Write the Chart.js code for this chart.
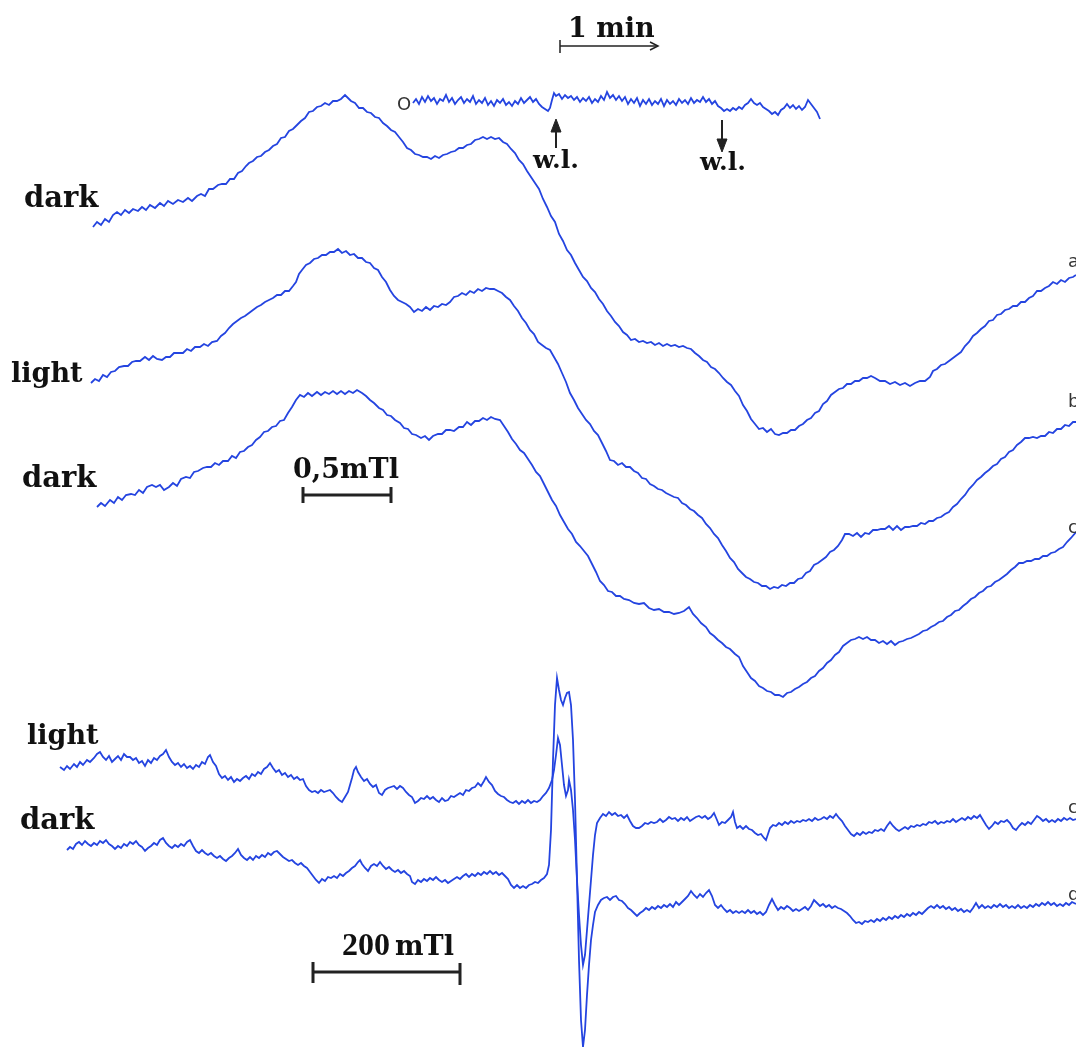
<!DOCTYPE html>
<html lang="en">
<head>
    <meta charset="UTF-8">
    <title>EPR spectra, dark / light</title>
    <script src="https://cdn.jsdelivr.net/npm/chart.js"></script>
    <style>
        html, body { margin: 0; padding: 0; background: #fff; }
        #wrap { position: relative; width: 1076px; height: 1051px; overflow: hidden; }
        #wrap canvas { position: absolute; left: 0; top: 0; }
        .lbl { position: absolute; font-family: 'DejaVu Serif', serif; font-weight: bold; line-height: 1; color: #111; white-space: nowrap; }
        .side { position: absolute; font-family: 'DejaVu Sans', sans-serif; font-size: 18px; line-height: 1; color: #333; }
    </style>
</head>
<body>

<div id="wrap">
    <canvas id="spectra" width="1076" height="1051"></canvas>

    <div class="lbl" style="left:24px; top:183px; font-size:29px;">dark</div>
    <div class="lbl" style="left:11px; top:359px; font-size:27px;">light</div>
    <div class="lbl" style="left:22px; top:463px; font-size:29px;">dark</div>
    <div class="lbl" style="left:27px; top:721px; font-size:27px;">light</div>
    <div class="lbl" style="left:20px; top:805px; font-size:29px;">dark</div>

    <div class="lbl" style="left:568px; top:14px; font-size:27px;">1 min</div>
    <div class="lbl" style="left:533px; top:147px; font-size:25px;">w.l.</div>
    <div class="lbl" style="left:700px; top:149px; font-size:25px;">w.l.</div>
    <div class="lbl" style="left:293px; top:455px; font-size:27px;">0,5mTl</div>
    <div class="lbl" style="left:342px; top:928px; font-size:32px; font-family:'Liberation Serif', serif;">200</div>
    <div class="lbl" style="left:395px; top:932px; font-size:27px;">mTl</div>

    <div class="side" style="left:397px; top:95px;">O</div>
    <div class="side" style="left:1068px; top:252px;">a</div>
    <div class="side" style="left:1068px; top:392px;">b</div>
    <div class="side" style="left:1068px; top:518px;">c</div>
    <div class="side" style="left:1068px; top:798px;">c</div>
    <div class="side" style="left:1068px; top:885px;">d</div>
</div>

<script>
    // traces (x = field / time position, y = signal, page pixels)
    const darkTop = [[93,227],[97,222],[101,225],[105,219],[109,222],[113,215],[117,212],[121,215],[125,210],[129,213],[133,209],[138,211],[142,207],[146,210],[150,205],[155,208],[160,203],[164,206],[168,201],[173,204],[178,200],[183,202],[188,198],[192,201],[197,196],[201,194],[205,196],[209,189],[213,189],[218,185],[222,184],[226,184],[230,179],[234,179],[238,173],[242,171],[246,166],[249,163],[253,161],[257,157],[261,156],[265,152],[269,150],[273,146],[277,144],[281,138],[285,137],[289,131],[293,129],[297,125],[301,121],[305,118],[309,112],[313,111],[317,107],[321,106],[325,103],[329,105],[333,101],[337,101],[341,99],[345,95],[348,98],[351,101],[355,103],[359,108],[363,108],[367,112],[371,113],[375,117],[379,118],[383,123],[387,126],[391,130],[395,132],[399,137],[403,142],[407,148],[411,150],[415,154],[419,155],[423,157],[427,157],[431,159],[435,156],[439,158],[443,155],[447,154],[451,152],[455,151],[459,148],[463,148],[467,145],[471,144],[475,140],[479,139],[483,137],[487,139],[491,137],[495,139],[499,138],[503,142],[507,144],[511,149],[515,153],[519,160],[523,164],[527,171],[531,177],[535,183],[539,189],[543,199],[547,207],[551,216],[555,222],[559,234],[563,241],[567,250],[571,255],[575,263],[579,270],[583,277],[587,281],[591,288],[595,292],[599,299],[603,304],[607,311],[611,316],[615,322],[619,326],[623,332],[627,335],[631,340],[635,339],[639,342],[643,341],[647,343],[651,342],[655,345],[659,343],[663,346],[667,344],[671,346],[675,345],[679,347],[683,346],[687,348],[691,349],[695,353],[699,356],[703,360],[707,362],[711,367],[715,369],[719,373],[723,378],[727,382],[731,385],[735,391],[739,396],[743,405],[747,411],[751,419],[755,424],[759,429],[763,428],[767,432],[771,429],[775,434],[779,435],[783,433],[787,433],[791,430],[795,430],[799,426],[803,424],[807,420],[811,418],[815,413],[819,411],[823,404],[827,401],[831,395],[835,392],[839,389],[843,388],[847,384],[851,384],[855,381],[859,381],[863,378],[867,378],[871,376],[875,378],[880,381],[885,381],[890,384],[895,382],[900,385],[905,383],[910,386],[915,383],[920,381],[925,381],[930,377],[933,371],[937,369],[941,365],[945,364],[949,361],[953,358],[957,355],[961,352],[965,346],[969,342],[973,336],[977,333],[981,329],[985,326],[989,321],[993,320],[997,315],[1001,314],[1005,310],[1009,309],[1013,306],[1017,306],[1021,302],[1025,302],[1029,298],[1033,296],[1037,291],[1041,291],[1045,288],[1049,286],[1053,282],[1057,284],[1061,280],[1065,282],[1069,278],[1073,277],[1076,275]];

    const lightMid = [[91,383],[95,379],[99,381],[103,375],[107,377],[111,372],[115,371],[119,367],[124,366],[128,366],[132,362],[136,361],[140,361],[145,357],[149,360],[153,356],[157,359],[162,360],[166,357],[170,357],[174,353],[179,353],[183,353],[187,349],[191,351],[195,347],[200,347],[204,344],[208,346],[212,342],[217,341],[221,336],[225,333],[229,328],[233,324],[237,321],[241,318],[245,316],[249,313],[253,310],[257,307],[261,305],[265,302],[269,300],[273,298],[277,295],[281,295],[285,291],[289,291],[293,286],[296,282],[299,274],[302,270],[306,265],[310,263],[314,259],[318,258],[322,255],[326,255],[330,252],[334,252],[338,249],[342,253],[346,251],[350,255],[354,254],[358,258],[362,258],[366,262],[370,263],[374,268],[378,270],[382,277],[386,282],[390,290],[394,296],[398,300],[402,302],[406,304],[410,307],[414,312],[418,309],[422,311],[426,307],[430,310],[434,306],[438,307],[442,304],[446,305],[450,302],[454,297],[458,296],[462,293],[466,295],[470,291],[474,293],[478,289],[482,291],[486,288],[490,289],[494,289],[498,291],[502,293],[506,297],[510,300],[514,306],[518,311],[522,318],[526,323],[530,330],[534,334],[538,342],[542,345],[546,348],[550,350],[554,357],[558,364],[562,373],[566,382],[570,393],[574,400],[578,408],[582,414],[586,420],[590,424],[594,431],[598,435],[602,443],[606,451],[610,460],[614,461],[618,465],[622,463],[626,467],[630,467],[634,471],[638,473],[642,478],[646,479],[650,484],[654,486],[658,489],[662,490],[666,493],[670,495],[674,497],[678,498],[682,503],[686,505],[690,509],[694,511],[698,515],[702,518],[706,524],[710,528],[714,534],[718,538],[722,545],[726,551],[730,558],[734,562],[738,569],[742,573],[746,577],[750,579],[754,582],[758,583],[762,586],[766,586],[770,589],[774,587],[778,588],[782,585],[786,586],[790,583],[794,583],[798,579],[802,578],[806,573],[810,571],[814,565],[818,563],[822,560],[826,557],[830,552],[834,550],[838,546],[842,540],[845,534],[849,534],[853,536],[857,533],[861,537],[865,533],[869,534],[873,530],[877,530],[881,529],[885,529],[889,526],[893,530],[897,526],[901,530],[905,527],[909,527],[913,526],[917,526],[921,523],[925,524],[929,521],[933,521],[937,518],[941,517],[945,514],[949,512],[953,507],[957,504],[961,499],[965,495],[969,489],[973,485],[977,480],[981,477],[985,473],[989,470],[993,466],[997,464],[1001,459],[1005,457],[1009,452],[1013,450],[1017,445],[1021,442],[1025,438],[1029,438],[1033,437],[1037,438],[1041,436],[1045,436],[1049,432],[1053,433],[1057,429],[1061,429],[1065,425],[1069,426],[1073,422],[1076,422]];

    const darkMid = [[97,507],[101,503],[105,506],[110,500],[114,503],[118,497],[122,500],[126,495],[131,494],[135,495],[139,490],[143,493],[147,487],[152,485],[156,487],[160,485],[164,490],[169,487],[173,483],[177,486],[181,479],[186,477],[190,478],[194,472],[198,471],[203,468],[207,467],[211,467],[215,463],[219,465],[223,461],[228,461],[232,456],[236,458],[240,452],[244,451],[248,447],[252,445],[256,440],[260,437],[264,432],[268,431],[272,427],[276,426],[280,421],[284,420],[288,413],[292,407],[296,400],[300,395],[304,397],[308,393],[312,396],[317,392],[321,395],[325,392],[329,394],[333,391],[337,394],[341,391],[345,394],[349,391],[353,393],[357,390],[362,393],[366,396],[370,400],[374,403],[379,408],[383,410],[387,415],[391,416],[395,420],[400,423],[404,428],[408,429],[412,434],[416,435],[421,438],[425,436],[429,440],[433,436],[438,434],[442,434],[446,430],[450,430],[454,431],[459,427],[463,427],[467,422],[471,425],[475,421],[479,421],[483,418],[487,420],[491,417],[495,419],[500,420],[504,426],[508,432],[512,439],[516,444],[520,450],[524,453],[528,459],[532,465],[536,472],[540,476],[544,484],[548,492],[552,500],[556,506],[560,515],[564,522],[568,529],[572,534],[576,542],[580,546],[584,551],[588,556],[592,564],[596,572],[600,581],[604,585],[608,591],[612,592],[616,596],[620,596],[624,599],[629,600],[634,603],[639,604],[644,603],[649,608],[654,610],[659,609],[664,612],[669,612],[674,614],[679,613],[684,611],[689,607],[693,614],[697,618],[701,623],[706,627],[710,633],[714,636],[718,640],[722,643],[726,647],[730,649],[735,654],[739,657],[743,666],[747,672],[751,678],[755,681],[759,686],[763,688],[767,691],[771,692],[775,695],[779,695],[783,697],[787,693],[791,692],[795,689],[799,687],[803,684],[807,682],[811,678],[815,676],[819,671],[823,668],[827,663],[831,660],[835,655],[839,652],[843,646],[847,643],[851,640],[855,639],[859,637],[863,639],[867,637],[871,640],[875,640],[879,643],[883,641],[887,644],[891,641],[895,645],[899,642],[903,641],[907,639],[911,638],[915,636],[919,634],[923,631],[927,630],[931,627],[935,625],[939,622],[943,621],[947,617],[951,615],[955,611],[959,610],[963,606],[967,603],[971,599],[975,597],[979,593],[983,591],[987,587],[991,586],[995,582],[999,580],[1003,577],[1007,574],[1011,570],[1015,567],[1019,563],[1023,563],[1027,561],[1031,561],[1035,559],[1039,559],[1043,556],[1047,556],[1051,553],[1055,552],[1059,549],[1063,547],[1067,542],[1071,538],[1076,532]];

    const lightLow = [[60,767],[64,770],[67,766],[70,769],[74,764],[77,767],[80,762],[83,765],[87,760],[90,762],[94,758],[97,754],[100,752],[103,757],[106,760],[109,756],[112,762],[115,759],[118,756],[121,760],[124,754],[127,757],[130,757],[133,760],[136,758],[139,763],[142,761],[145,766],[148,760],[151,763],[154,758],[157,760],[160,756],[163,754],[166,750],[169,757],[172,762],[175,765],[178,763],[181,767],[184,764],[187,768],[190,766],[193,769],[196,765],[199,767],[202,762],[205,764],[208,757],[210,755],[213,762],[216,766],[219,774],[222,778],[225,776],[228,780],[231,777],[234,782],[237,779],[240,781],[243,778],[246,776],[249,779],[252,774],[255,776],[258,772],[261,774],[264,769],[267,767],[270,763],[273,768],[276,772],[279,770],[282,775],[285,773],[288,777],[291,775],[294,779],[297,777],[300,780],[303,779],[306,786],[309,790],[312,792],[315,791],[318,793],[321,790],[324,792],[327,791],[330,790],[333,793],[336,797],[339,800],[342,802],[345,797],[348,792],[350,785],[352,778],[354,770],[356,767],[358,772],[361,777],[364,781],[367,779],[370,784],[373,787],[376,785],[379,793],[382,795],[385,790],[388,788],[391,787],[394,786],[397,789],[400,786],[403,788],[406,792],[409,795],[412,797],[415,803],[418,801],[421,798],[424,799],[427,796],[430,799],[433,797],[436,800],[439,802],[442,798],[445,801],[448,800],[451,796],[454,797],[457,795],[460,793],[463,795],[466,790],[469,791],[472,788],[475,787],[478,783],[481,786],[484,781],[486,777],[489,782],[492,785],[495,791],[498,794],[501,796],[504,797],[507,800],[510,802],[513,803],[516,801],[519,804],[522,801],[525,803],[528,800],[531,803],[534,801],[537,802],[540,800],[543,796],[546,793],[549,788],[552,780],[554,770],[556,755],[558,738],[560,745],[562,765],[564,785],[566,796],[568,790],[569,780],[571,790],[573,810],[575,840],[577,880],[579,915],[581,945],[583,965],[585,955],[587,930],[589,905],[591,880],[593,855],[595,835],[597,823],[600,818],[603,814],[606,816],[609,812],[612,815],[615,813],[618,816],[621,815],[624,818],[627,815],[630,821],[633,826],[636,828],[639,828],[642,826],[645,823],[648,824],[651,822],[654,823],[657,822],[660,819],[663,822],[666,820],[669,817],[672,819],[675,818],[678,821],[681,818],[684,820],[687,817],[690,821],[693,819],[696,817],[699,816],[702,818],[705,816],[708,819],[711,817],[714,813],[717,820],[719,825],[722,822],[725,823],[728,820],[731,817],[733,812],[735,822],[737,828],[740,826],[743,829],[746,826],[749,829],[752,830],[755,833],[758,835],[761,834],[764,838],[766,840],[768,834],[770,828],[773,825],[776,826],[779,823],[782,825],[785,822],[788,824],[791,821],[794,823],[797,821],[800,822],[803,820],[806,821],[809,819],[812,821],[815,818],[818,820],[821,819],[824,817],[827,819],[830,816],[833,818],[836,814],[839,818],[842,821],[845,826],[848,830],[851,834],[854,836],[857,833],[860,835],[863,832],[866,834],[869,832],[872,833],[875,830],[878,831],[881,829],[884,831],[887,826],[890,822],[893,826],[896,829],[899,831],[902,829],[905,827],[908,829],[911,826],[914,827],[917,825],[920,826],[923,824],[926,825],[929,822],[932,823],[935,821],[938,824],[941,822],[944,823],[947,821],[950,822],[953,819],[956,822],[959,820],[962,818],[965,820],[968,817],[971,819],[974,816],[977,818],[980,815],[983,820],[986,825],[989,829],[992,826],[995,822],[998,824],[1001,821],[1004,822],[1007,820],[1010,823],[1013,828],[1016,830],[1019,826],[1022,823],[1025,825],[1028,822],[1031,824],[1034,820],[1037,816],[1040,818],[1043,821],[1046,819],[1049,822],[1052,820],[1055,822],[1058,819],[1061,821],[1064,818],[1067,820],[1070,818],[1073,820],[1076,819]];

    const darkLow = [[67,850],[70,847],[73,849],[76,844],[79,842],[82,845],[85,841],[88,844],[91,846],[94,843],[97,845],[100,841],[103,843],[106,840],[109,844],[112,846],[115,849],[118,846],[121,848],[124,844],[127,846],[130,842],[133,844],[136,841],[139,845],[142,847],[145,851],[148,848],[151,846],[154,843],[157,845],[160,840],[163,838],[166,843],[169,846],[172,848],[175,845],[178,847],[181,844],[184,846],[187,842],[190,840],[193,846],[196,851],[199,853],[202,850],[205,853],[208,855],[211,853],[214,856],[217,858],[220,856],[223,859],[226,861],[229,858],[232,856],[235,853],[238,849],[241,855],[244,858],[247,860],[250,857],[253,860],[256,856],[259,858],[262,855],[265,857],[268,853],[271,855],[274,852],[277,851],[280,854],[283,857],[286,859],[289,861],[292,860],[295,863],[298,865],[301,863],[304,866],[307,868],[310,872],[313,876],[316,880],[319,883],[322,879],[325,881],[328,877],[331,878],[334,876],[337,878],[340,874],[343,876],[346,873],[349,871],[352,868],[355,866],[358,862],[360,860],[362,864],[365,868],[368,871],[371,866],[374,864],[377,866],[380,862],[383,866],[386,869],[389,867],[392,870],[395,872],[398,870],[401,873],[404,871],[407,874],[410,876],[412,882],[415,884],[418,880],[421,882],[424,879],[427,881],[430,878],[433,880],[436,877],[439,880],[442,882],[445,880],[448,883],[451,881],[454,879],[457,877],[460,879],[463,876],[466,874],[469,877],[472,874],[475,876],[478,873],[481,875],[484,872],[487,874],[490,871],[493,874],[496,872],[499,875],[502,873],[505,876],[508,879],[511,885],[514,888],[517,885],[520,888],[523,886],[526,888],[529,885],[532,884],[535,882],[538,883],[541,880],[544,878],[547,874],[549,865],[551,830],[553,760],[555,705],[557,678],[559,690],[561,700],[563,705],[565,698],[567,693],[569,692],[571,705],[573,740],[575,800],[577,880],[579,960],[581,1020],[583,1047],[585,1030],[587,995],[589,965],[591,940],[593,925],[595,912],[598,905],[601,900],[604,898],[607,897],[610,900],[613,897],[616,896],[619,900],[622,901],[625,904],[628,908],[631,910],[634,913],[637,916],[640,913],[643,911],[646,908],[649,910],[652,907],[655,909],[658,906],[661,908],[664,905],[667,907],[670,904],[673,907],[676,902],[679,905],[682,902],[685,899],[688,896],[691,891],[694,895],[697,898],[700,894],[703,897],[706,893],[709,890],[712,896],[715,905],[718,908],[721,905],[724,909],[727,912],[730,910],[733,913],[736,911],[739,913],[742,911],[745,913],[748,910],[751,913],[754,911],[757,914],[760,912],[763,915],[766,912],[769,905],[772,899],[775,905],[778,910],[781,907],[784,909],[787,906],[790,908],[793,911],[796,909],[799,911],[802,909],[805,907],[808,910],[811,906],[814,900],[817,903],[820,906],[823,904],[826,907],[829,905],[832,908],[835,906],[838,908],[841,909],[844,911],[847,913],[850,916],[853,920],[856,923],[859,922],[862,924],[865,921],[868,922],[871,920],[874,922],[877,919],[880,921],[883,918],[886,920],[889,917],[892,919],[895,916],[898,918],[901,915],[904,917],[907,914],[910,916],[913,913],[916,915],[919,912],[922,914],[925,911],[928,908],[931,906],[934,908],[937,905],[940,908],[943,906],[946,909],[949,907],[952,910],[955,908],[958,911],[961,909],[964,912],[967,910],[970,912],[973,908],[976,903],[979,908],[982,905],[985,908],[988,906],[991,908],[994,905],[997,907],[1000,904],[1003,907],[1006,905],[1009,908],[1012,906],[1015,908],[1018,905],[1021,908],[1024,906],[1027,908],[1030,905],[1033,907],[1036,904],[1039,906],[1042,903],[1045,905],[1048,902],[1051,905],[1054,903],[1057,906],[1060,904],[1063,906],[1066,903],[1069,905],[1072,902],[1076,904]];

    // kinetic trace (signal vs time, white light on / off)
    const kinetic = [[413,103],[416,99],[419,104],[422,97],[425,102],[428,96],[431,101],[434,98],[437,104],[440,99],[443,101],[446,95],[449,102],[452,98],[455,104],[458,100],[461,97],[464,103],[467,99],[470,102],[473,96],[476,104],[479,100],[482,103],[485,98],[488,105],[491,101],[494,106],[497,100],[500,103],[503,99],[506,105],[509,102],[512,106],[515,101],[518,104],[521,98],[524,103],[527,100],[530,97],[533,102],[536,99],[539,104],[542,107],[545,109],[548,111],[550,108],[552,100],[554,93],[556,96],[559,94],[562,99],[565,95],[568,98],[571,96],[574,100],[577,97],[580,102],[583,98],[586,101],[589,97],[592,103],[595,99],[598,102],[601,96],[604,100],[607,92],[610,98],[613,95],[616,100],[619,96],[622,101],[625,97],[628,104],[631,99],[634,103],[637,98],[640,106],[643,100],[646,104],[649,99],[652,105],[655,101],[658,104],[661,99],[664,106],[667,100],[670,104],[673,101],[676,105],[679,99],[682,103],[685,100],[688,104],[691,98],[694,103],[697,100],[700,102],[703,97],[706,102],[709,99],[712,104],[715,101],[718,106],[721,108],[724,111],[727,109],[730,111],[733,108],[736,110],[739,107],[742,109],[745,105],[748,103],[751,99],[754,103],[757,105],[760,103],[763,107],[766,109],[769,111],[772,114],[775,112],[778,115],[781,110],[784,108],[787,104],[790,108],[793,105],[796,109],[799,106],[802,110],[805,107],[808,100],[811,104],[814,108],[817,112],[820,119]];

    // scale bars and markers
    const minBar = [[560,46],[658,46]];
    const minTick = [[560,40],[560,53]];
    const minHead = [[650,42],[658,46],[650,50]];
    const wlOnShaft = [[556,148],[556,128]];
    const wlOnHead = [[551,132],[556,119],[561,132],[551,132]];
    const wlOffShaft = [[722,120],[722,141]];
    const wlOffHead = [[717,139],[722,152],[727,139],[717,139]];
    const fieldBar = [[303,495],[391,495]];
    const fieldTicks = [[[303,487],[303,503]], [[391,487],[391,503]]];
    const wideBar = [[313,972],[460,972]];
    const wideTicks = [[[313,962],[313,983]], [[460,963],[460,985]]];

    const traceColor = 'rgb(36,68,224)';
    const inkColor = '#222';

    function pts(arr) {
        return arr.map(p => ({ x: p[0], y: p[1] }));
    }

    function trace(arr) {
        return { data: pts(arr), borderColor: traceColor, borderWidth: 1.8, showLine: true, pointRadius: 0, fill: false, tension: 0 };
    }

    function ink(arr, w) {
        return { data: pts(arr), borderColor: inkColor, borderWidth: w, showLine: true, pointRadius: 0, fill: false, tension: 0 };
    }

    function head(arr) {
        return { data: pts(arr), borderColor: inkColor, backgroundColor: inkColor, borderWidth: 1, showLine: true, pointRadius: 0, fill: 'shape', tension: 0 };
    }

    const datasets = [
        trace(darkTop), trace(lightMid), trace(darkMid),
        trace(lightLow), trace(darkLow), trace(kinetic),
        ink(minBar, 1.5), ink(minTick, 1.5), ink(minHead, 1.5),
        ink(wlOnShaft, 2), head(wlOnHead),
        ink(wlOffShaft, 2), head(wlOffHead),
        ink(fieldBar, 3), ink(fieldTicks[0], 3), ink(fieldTicks[1], 3),
        ink(wideBar, 3), ink(wideTicks[0], 3), ink(wideTicks[1], 3)
    ];

    new Chart(document.getElementById('spectra'), {
        type: 'scatter',
        data: { datasets: datasets },
        options: {
            responsive: false,
            animation: false,
            layout: { padding: 0 },
            plugins: { legend: { display: false }, tooltip: { enabled: false } },
            scales: {
                x: { type: 'linear', min: 0, max: 1076, display: false },
                y: { type: 'linear', min: 0, max: 1051, reverse: true, display: false }
            }
        }
    });
</script>

</body>
</html>
